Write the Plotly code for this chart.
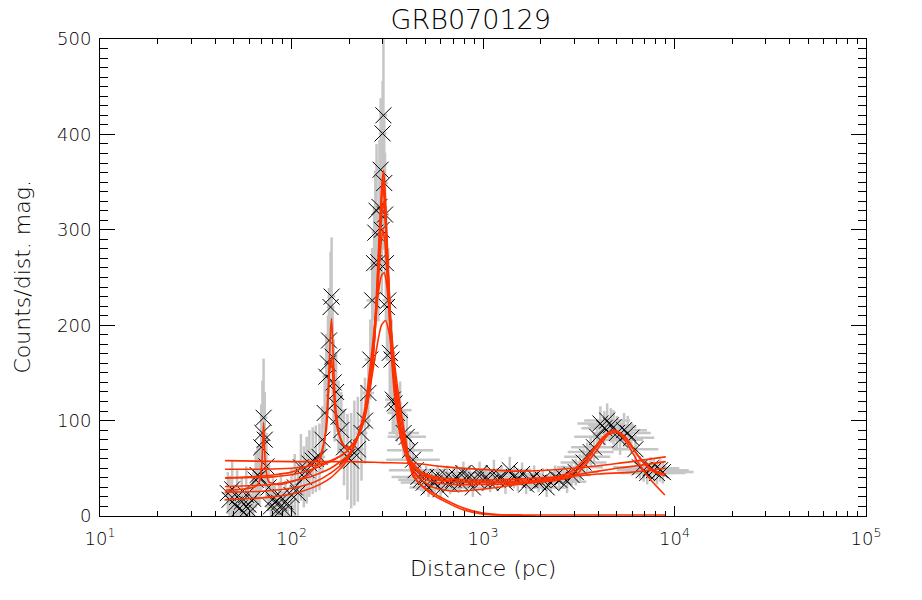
import numpy as np
import plotly.graph_objects as go

# ---------------- data ----------------
dist = [46.5, 47.5, 49, 50.5, 52, 53.5, 55, 56.5, 58, 59.5, 61, 63, 65, 66.5, 68, 69.5, 70.5, 71.5, 72.5, 74,
        76, 78, 80, 82, 84, 86, 88, 90, 93, 96, 100, 104, 108, 112, 116, 120, 124, 129, 134, 140,
        145, 149, 152, 155, 157, 160, 162, 164, 166, 168, 171, 176, 182, 188, 196, 205, 213, 222, 232, 242,
        252, 258, 264, 270, 274, 278, 284, 288, 292, 296, 299, 302, 305, 308, 311, 315, 320, 326, 333, 338,
        345, 355, 369, 385, 400, 416, 431, 445, 460, 475, 490, 505, 520, 540, 560, 580, 600, 625, 650, 675,
        700, 730, 760, 790, 820, 850, 885, 920, 960, 1000, 1040, 1090, 1140, 1190, 1250, 1310, 1380, 1450, 1520, 1600,
        1680, 1760, 1850, 1950, 2050, 2150, 2260, 2380, 2500, 2620, 2750, 2900, 3050, 3210, 3350, 3500, 3650, 3800, 3950, 4100,
        4300, 4450, 4650, 4800, 5000, 5200, 5450, 5700, 5950, 6250, 6600, 6900, 7200, 7500, 7800, 8100, 8400, 8700]
counts = [24, 17, 28, 12, 20, 8, 15, 4, 22, 12, 5, 18, 38, 43, 41, 72, 87, 103, 80, 52,
          30, 10, 18, 14, 6, 14, 20, 8, 15, 10, 22, 30, 24, 51, 41, 48, 55, 58, 60, 62,
          80, 108, 146, 160, 184, 219, 230, 167, 140, 118, 130, 104, 90, 72, 62, 58, 66, 70, 87, 100,
          129, 164, 226, 265, 297, 320, 266, 324, 363, 300, 401, 420, 349, 316, 265, 219, 226, 171, 164, 122,
          118, 108, 111, 87, 83, 69, 59, 48, 41, 38, 35, 41, 30, 38, 35, 41, 28, 38, 41, 33,
          38, 41, 35, 45, 38, 41, 30, 38, 45, 38, 41, 35, 45, 38, 41, 35, 48, 41, 38, 44,
          33, 38, 41, 35, 38, 30, 35, 41, 38, 41, 36, 43, 46, 51, 56, 62, 67, 72, 83, 97,
          92, 100, 95, 93, 87, 80, 90, 87, 82, 70, 51, 48, 45, 50, 48, 45, 48, 46]
counts_err = [22, 25, 30, 20, 28, 18, 25, 15, 30, 20, 15, 28, 30, 30, 30, 45, 55, 62, 50, 35,
              25, 18, 22, 20, 18, 22, 25, 18, 22, 20, 28, 35, 30, 35, 32, 35, 35, 35, 35, 35,
              35, 40, 45, 50, 55, 58, 62, 52, 45, 40, 42, 38, 40, 40, 45, 50, 55, 55, 50, 45,
              38, 42, 55, 60, 65, 70, 62, 70, 75, 68, 55, 85, 70, 65, 60, 55, 55, 45, 42, 35,
              32, 30, 30, 25, 24, 20, 18, 15, 14, 12, 12, 12, 10, 12, 10, 12, 10, 12, 12, 10,
              12, 12, 10, 12, 12, 12, 10, 12, 12, 12, 12, 10, 14, 12, 12, 12, 14, 12, 12, 12,
              10, 12, 12, 10, 12, 10, 10, 12, 12, 12, 12, 12, 14, 14, 14, 15, 15, 16, 18, 18,
              18, 18, 18, 18, 18, 16, 18, 18, 16, 15, 12, 12, 12, 12, 12, 12, 12, 12]
dist_err_dex = ([0.03] * 12 + [0.02] * 9 + [0.03] * 19 + [0.02] * 11 + [0.03] * 12 +
                [0.02] * 13 + [0.03] * 3 +
                [0.04, 0.04, 0.05, 0.06, 0.08, 0.1, 0.12, 0.14, 0.14, 0.14, 0.12, 0.12] +
                [0.1] * 41 + [0.12] * 18 + [0.14] * 3 + [0.15] * 4 + [0.16])

# model fits (red curves)
fit1_x = [45, 55, 65, 68, 70, 71.5, 73, 76, 85, 100, 120, 140, 150, 156, 160, 162, 165, 170, 180, 195, 215, 240,
          260, 275, 288, 297, 303, 310, 320, 335, 355, 380, 420, 480, 600, 800, 1200, 2000, 2800, 3500, 4200,
          4800, 5300, 6000, 7000, 8000, 9000]
fit1_y = [27, 28, 31, 36, 55, 98, 55, 36, 33, 36, 42, 58, 85, 140, 195, 207, 170, 115, 82, 70, 78, 105,
          150, 215, 300, 350, 362, 330, 260, 180, 120, 82, 56, 43, 37, 36, 36, 38, 45, 62, 82,
          90, 86, 72, 55, 47, 44]
fit2_x = [45, 60, 80, 100, 120, 140, 152, 158, 162, 166, 172, 185, 200, 220, 245, 265, 280, 292, 300, 308, 318,
          332, 350, 375, 410, 460, 550, 700, 1000, 1600, 2500, 3200, 3900, 4600, 5100, 5700, 6500, 7500, 8900]
fit2_y = [40, 41, 43, 46, 52, 62, 90, 150, 165, 130, 95, 75, 72, 82, 115, 170, 240, 315, 345, 320, 250,
          170, 115, 78, 55, 42, 36, 33, 33, 34, 38, 50, 72, 88, 87, 75, 55, 38, 22]
fit3_x = [45, 70, 100, 130, 160, 190, 220, 245, 265, 280, 292, 300, 308, 320, 335, 355, 380, 420, 480, 600,
          800, 1200, 2000, 3000, 4000, 5000, 6500, 9000]
fit3_y = [49, 49, 50, 53, 58, 66, 82, 110, 160, 225, 280, 300, 285, 230, 165, 115, 80, 58, 46, 40,
          38, 38, 40, 43, 47, 50, 53, 57]
fit4_x = [45, 70, 100, 130, 160, 190, 215, 240, 262, 280, 295, 305, 315, 330, 350, 370, 395, 430, 530, 650,
          800, 1000, 1300, 2000, 4000, 9000]
fit4_y = [17, 19, 23, 30, 40, 55, 75, 110, 170, 225, 252, 255, 240, 200, 150, 115, 80, 42, 24, 14,
          6, 2, 1, 1, 1, 1]
fit5_x = [45, 70, 100, 130, 160, 190, 220, 250, 275, 295, 310, 325, 345, 370, 400, 430, 470, 530, 650, 800,
          1000, 1300, 1600]
fit5_y = [25, 26, 29, 35, 45, 58, 80, 120, 170, 200, 205, 190, 150, 105, 70, 45, 33, 26, 16, 8,
          3, 1, 1]
fit6_x = [45, 100, 200, 300, 450, 600, 800, 1500, 3000, 5000, 9000]
fit6_y = [58, 57, 57, 56, 55, 52, 50, 47, 50, 55, 62]
fit7_x = [45, 80, 110, 140, 170, 200, 230, 255, 275, 290, 300, 310, 325, 345, 370, 400, 450, 550, 700, 1000,
          2000, 3000, 3800, 4500, 5000, 5600, 6500, 7500, 8900]
fit7_y = [40, 41, 45, 52, 60, 70, 90, 130, 200, 300, 355, 320, 220, 140, 92, 65, 48, 40, 36, 35,
          36, 42, 65, 85, 88, 82, 62, 48, 42]
fit8_x = [45, 80, 120, 160, 200, 240, 270, 290, 302, 315, 335, 360, 400, 450, 550, 700, 1000, 1500, 2500,
          4000, 6000, 9000]
fit8_y = [31, 33, 40, 50, 65, 100, 180, 290, 330, 280, 180, 110, 65, 42, 30, 26, 28, 33, 40,
          44, 46, 50]

x_tickvals = [10, 100, 1000, 10000, 100000]
x_ticktext = ["10<sup>1</sup>", "10<sup>2</sup>", "10<sup>3</sup>", "10<sup>4</sup>", "10<sup>5</sup>"]

# ---------------- figure ----------------
d = np.array(dist, dtype=float)
dx = np.array(dist_err_dex)
err_plus = d * (10 ** dx - 1)
err_minus = d * (1 - 10 ** (-dx))

FONT = "DejaVu Sans"
W = 200
TXT = "#000000"
RED = "#ff3000"
GREY = "#c6c6c6"

fig = go.Figure()
fig.add_trace(go.Scatter(
    x=dist, y=counts, mode="markers",
    marker=dict(symbol="x-thin", size=16, color="#000000",
                line=dict(width=1, color="#000000")),
    error_y=dict(type="data", array=counts_err, color=GREY, thickness=2.5, width=0),
    error_x=dict(type="data", array=err_plus.tolist(), arrayminus=err_minus.tolist(),
                 color=GREY, thickness=2.5, width=0),
    hoverinfo="skip"))

fits = [(fit1_x, fit1_y), (fit2_x, fit2_y), (fit3_x, fit3_y), (fit4_x, fit4_y),
        (fit5_x, fit5_y), (fit6_x, fit6_y), (fit7_x, fit7_y), (fit8_x, fit8_y)]
for fx, fy in fits:
    fig.add_trace(go.Scatter(x=fx, y=fy, mode="lines",
                             line=dict(color=RED, width=1.6, shape="spline", smoothing=0.6),
                             hoverinfo="skip"))

minor_x = [m * 10 ** e for e in range(1, 5) for m in range(2, 10)]

fig.update_layout(
    width=922, height=600,
    margin=dict(l=100, r=56, t=39, b=84, autoexpand=False),
    paper_bgcolor="white", plot_bgcolor="white",
    showlegend=False,
    font=dict(family=FONT, color=TXT, size=18, weight=W),
    title=dict(text="GRB070129", x=0.484, xref="paper", y=1 - 20 / 600, yref="container",
               xanchor="center", yanchor="middle",
               font=dict(family=FONT, size=27, color=TXT, weight=W)),
    xaxis=dict(type="log", range=[1, 5], tickmode="array", tickvals=x_tickvals, ticktext=x_ticktext,
               ticks="inside", ticklen=10, tickwidth=1, tickcolor="black",
               showline=True, linecolor="black", linewidth=1, mirror="ticks",
               showgrid=False, zeroline=False, ticklabelstandoff=6, automargin=False,
               tickfont=dict(family=FONT, size=18, color=TXT, weight=W),
               minor=dict(ticks="inside", ticklen=5, tickwidth=1, tickcolor="black",
                          tickmode="array", tickvals=minor_x, showgrid=False)),
    yaxis=dict(range=[0, 500], tickmode="linear", tick0=0, dtick=100,
               ticks="inside", ticklen=15, tickwidth=1, tickcolor="black",
               showline=True, linecolor="black", linewidth=1, mirror="ticks",
               showgrid=False, zeroline=False, ticklabelstandoff=4, automargin=False,
               tickfont=dict(family=FONT, size=18, color=TXT, weight=W),
               minor=dict(ticks="inside", ticklen=8, tickwidth=1, tickcolor="black",
                          dtick=10, showgrid=False)),
    annotations=[
        dict(text="Distance (pc)", xref="paper", yref="paper", x=0.5, y=-52 / 477,
             xanchor="center", yanchor="middle", showarrow=False,
             font=dict(family=FONT, size=22, color=TXT, weight=W)),
        dict(text="Counts/dist. mag.", xref="paper", yref="paper", x=-78 / 766, y=0.5,
             xanchor="center", yanchor="middle", showarrow=False, textangle=-90,
             font=dict(family=FONT, size=22, color=TXT, weight=W)),
    ],
)

# remove the default 8px page margin so the 922x600 figure fills the window exactly
fig.write_html("out.html",
               config={"displayModeBar": False},
               post_script="document.body.style.margin='0px';document.body.style.overflow='hidden';")
